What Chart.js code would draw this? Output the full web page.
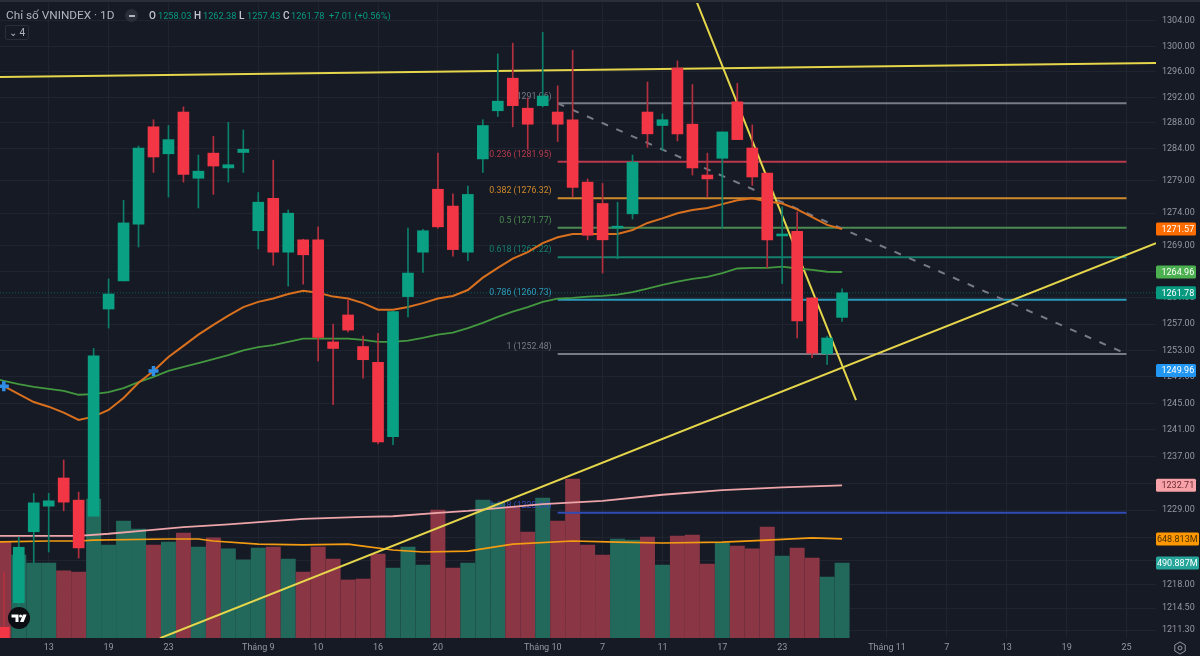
<!DOCTYPE html>
<html>
<head>
<meta charset="utf-8">
<title>Chỉ số VNINDEX</title>
<script src="https://cdn.jsdelivr.net/npm/chart.js@4"></script>
<style>
html,body{margin:0;padding:0;background:#161a25;overflow:hidden;}
#wrap{position:relative;width:1200px;height:656px;font-family:Roboto,"Liberation Sans",sans-serif;filter:blur(0.35px);}
canvas{position:absolute;left:0;top:0;}
#topline{position:absolute;left:0;top:0;width:1200px;height:2px;background:#2a2e39;}
.h{position:absolute;top:9px;font-size:9.2px;line-height:13px;color:#089981;white-space:nowrap;}
.k{color:#c5c8d0;font-weight:500;font-size:10px;}
#title{position:absolute;left:6px;top:7px;font-size:11.8px;line-height:16px;color:#b2b5be;white-space:nowrap;}
#minus{position:absolute;left:125px;top:9px;width:13px;height:13px;border-radius:50%;background:#2a2e39;}
#minus i{position:absolute;left:3.5px;top:5.5px;width:6px;height:2px;background:#b2b5be;}
#count{position:absolute;left:5px;top:25px;width:22px;height:13px;border:1px solid #2a2e39;border-radius:2px;color:#b2b5be;font-size:10px;line-height:13px;text-align:center;}
#logo{position:absolute;left:8px;top:607px;}
#gear{position:absolute;left:1173px;top:641px;}
</style>
</head>
<body>
<div id="wrap">
  <canvas id="chart" width="1200" height="656"></canvas>
  <div id="topline"></div>
  <div id="title">Chỉ số VNINDEX · 1D</div>
  <div id="minus"><i></i></div>
  <div class="h" style="left:149px"><span class="k">O</span></div>
  <div class="h" style="left:158px">1258.03</div>
  <div class="h" style="left:194px"><span class="k">H</span></div>
  <div class="h" style="left:203px">1262.38</div>
  <div class="h" style="left:239px"><span class="k">L</span></div>
  <div class="h" style="left:247px">1257.43</div>
  <div class="h" style="left:283px"><span class="k">C</span></div>
  <div class="h" style="left:291px">1261.78</div>
  <div class="h" style="left:329px">+7.01 (+0.56%)</div>
  <div id="count">⌄ 4</div>
  <svg id="logo" width="22" height="22" viewBox="0 0 22 22">
    <circle cx="11" cy="11" r="11" fill="#0b0d12"/>
    <path d="M3.5 7.5h7v7.5h-3v-4.5h-4z" fill="#fff"/>
    <circle cx="12.6" cy="9" r="1.5" fill="#fff"/>
    <path d="M15 7.5h3.6l-3 7.5h-3.6z" fill="#fff"/>
  </svg>
  <svg id="gear" width="14" height="14" viewBox="0 0 14 14">
    <path d="M7 1l5.2 3v6L7 13l-5.2-3V4z" fill="none" stroke="#9598a1" stroke-width="1"/>
    <circle cx="7" cy="7" r="2" fill="none" stroke="#9598a1" stroke-width="1"/>
  </svg>
</div>
<script>
// daily candles
const opens = [1211.7,1215.3,1225.8,1229.6,1233.8,1230.5,1228.1,1259.3,1263.6,1272.3,1287.4,1283.2,1289.7,1279.4,1283.3,1281,1283.4,1271.3,1276.3,1268,1269.9,1269.9,1254.3,1258.4,1253.6,1251.2,1240,1261.2,1268,1277.7,1275.1,1268,1282.4,1289.9,1295,1290.3,1290.7,1289.7,1288.5,1278.8,1275.5,1271.7,1273.9,1289.7,1287.6,1296.6,1287.8,1279.9,1282.5,1291.3,1284.1,1280.2,1270.5,1271.2,1261,1252.5,1258.03];
const highs = [1219.8,1225,1231.5,1231.5,1236.5,1231.7,1253.3,1263.9,1276,1284.4,1288.5,1287.6,1290.5,1283,1285.9,1288.1,1286.9,1277.2,1282.2,1274.5,1270,1271.9,1257,1260.7,1255.2,1255.6,1259,1271.7,1271.5,1283.3,1277,1278.2,1288.5,1298.8,1300.5,1291.9,1302.2,1293.8,1299.4,1279.3,1278.6,1275.7,1283,1294.4,1289.4,1297.7,1294,1283.3,1286.6,1294.2,1287.7,1280.2,1275,1274.2,1261,1255.2,1262.38];
const lows = [1210,1214.5,1221.2,1222.8,1228.9,1221.9,1228.1,1256.4,1263.6,1268.8,1280.3,1276.5,1278.8,1274.8,1276.9,1278.8,1280.3,1268.5,1266,1262.8,1263.1,1251.4,1244.8,1255.8,1248.8,1238.9,1238.8,1258.1,1264.9,1271.7,1267.4,1266.7,1280.3,1289,1287.4,1283.9,1290.5,1285.1,1276.5,1269.9,1264.8,1267,1273.1,1284.2,1283.7,1285.2,1279.9,1276.5,1271.7,1285.4,1278.3,1265.6,1263.2,1254.9,1251.9,1250.9,1257.43];
const closes = [1210,1223.5,1230.1,1230.4,1230.2,1223.4,1252.2,1261.6,1272.5,1284.1,1282.7,1285.4,1280,1280.5,1281.3,1281.5,1283.9,1275.7,1268,1274,1267.6,1255,1253.3,1256.1,1251.6,1239.2,1258.9,1264.8,1271.3,1271.9,1268.4,1276.9,1287.6,1291.4,1290.7,1287.8,1292.2,1287.8,1278,1270.6,1269.9,1272,1281.9,1286.3,1288.5,1286.3,1281,1279.3,1286.6,1285.4,1279.6,1269.9,1270.8,1257.5,1252.6,1254.9,1261.78];
// millions
const volumes = [628,543,491,491,439,432,910,609,766,713,609,628,687,596,655,583,511,589,596,517,432,596,517,380,386,550,458,596,478,838,458,491,903,884,857,694,916,766,1041,609,543,648,641,661,478,668,674,484,622,602,583,726,537,589,524,399,490.887];

// moving averages, one value per day
const ma20 = [1247.6,1246.4,1245.2,1244.5,1243.6,1242.5,1243,1244,1245.8,1248.1,1249.9,1252,1253.7,1255.4,1256.9,1258.3,1259.6,1260.4,1260.9,1261.6,1262.1,1261.8,1261.2,1260.9,1260.2,1259.2,1259.2,1259.6,1260.2,1260.9,1261.3,1262.2,1264.1,1265.6,1267,1268,1269.4,1270.3,1270.8,1270.8,1270.8,1270.8,1271.4,1272.5,1273.2,1274,1274.5,1274.8,1275.4,1276,1276.3,1275.8,1275.5,1274.6,1273.4,1272.2,1271.57];
const ma50 = [1248.4,1247.9,1247.5,1247.2,1246.9,1246.3,1246.4,1246.7,1247.3,1248.2,1249,1249.9,1250.5,1251.1,1251.7,1252.3,1253,1253.5,1253.8,1254.3,1254.8,1254.8,1254.8,1254.8,1254.6,1254.3,1254.3,1254.5,1254.9,1255.4,1255.7,1256.4,1257.2,1258.1,1258.9,1259.6,1260.4,1260.9,1261,1261.2,1261.3,1261.5,1261.9,1262.4,1263,1263.5,1263.9,1264.2,1264.8,1265.5,1265.6,1265.6,1265.8,1265.5,1265.3,1265,1264.96];
const ma50Before = 1249;

// slow lines are read at fewer days
const ma200Days = [-1,5,7,9,12,15,20,24,26,29,31,36,40,44,48,52,56];
const ma200 = [1225.2,1225.2,1225.5,1225.9,1226.5,1226.9,1227.7,1228,1228.1,1228.6,1228.9,1229.9,1230.4,1231.3,1232,1232.4,1232.71];
const volMaDays = [-1,3,5,6,11,13,14,17,20,23,24,26,28,31,34,38,41,44,48,51,54,56];
const volMa = [628,635,635,641,648,648,635,615,609,615,602,576,563,569,615,635,628,622,628,641,655,648.813];

// fib levels
const fibRatios = ['0','0.236','0.382','0.5','0.618','0.786','1','1.618'];
const fibPrices = [1291.06,1281.95,1276.32,1271.77,1267.22,1260.73,1252.48,1228.64];
const fibColors = ['#787b86','#b83a4c','#d08a2c','#4b8b50','#15806e','#2b9cbb','#787b86','#2f4bb5'];
const fibDays = [37,75];

// drawn trend lines, [day, price]
const topLineDays = [-0.26,76.97];
const topLinePrices = [1295.2,1297.4];
const fallLineDays = [46.24,56.93];
const fallLinePrices = [1307.3,1245.5];
const riseLineDays = [10.43,76.97];
const riseLinePrices = [1210.1,1269.4];

const crossDays = [0,10];
const crossPrices = [1247.6,1249.9];

// axes
const xMin = -0.254, xMax = 76.97;
const xTickDays = [3,7,11,17,21,25,29,36,40,44,48,52,59,63,67,71,75];
const xTickLabels = ['13','19','23','Tháng 9','10','16','20','Tháng 10','7','11','17','23','Tháng 11','7','13','19','25'];
const yTicks = [1304,1300,1296,1292,1288,1284,1279,1274,1269,1265,1261,1257,1253,1249,1245,1241,1237,1233,1229,1225,1221.5,1218,1214.5,1211.3];
const yTicksUnderTags = [1265,1233,1225,1221.5];

const priceMin = 1210.13, priceMax = 1306.84, volMax = 4157;

// last values shown on the axis
const priceTags = [[1271.57,'#ff6d00','#fff'],[1264.96,'#4caf50','#fff'],[1261.78,'#089981','#fff'],[1249.96,'#2196f3','#fff'],[1232.71,'#f7a1a8','#6b2a33']];
const volTags = [[648.813,'#ff9800','#4a3000'],[490.887,'#26a69a','#fff']];

const upColor = '#0aa083', downColor = '#f23645';
const upVol = '#22695c', downVol = '#8b3645';
const upWick = '#0c7f6b', downWick = '#b5303f';
const gridColor = '#1f2430';
const fontName = 'Roboto, "Liberation Sans", sans-serif';

const isUp = opens.map((o,i) => closes[i] >= o);

function toPoints(days, values){
    return days.map((d,i) => ({x:d, y:values[i]}));
}

function lineSet(label, points, color, width, order, extra){
    return Object.assign({
        type:'line', label:label, data:points, yAxisID:'y',
        borderColor:color, borderWidth:width, pointRadius:0, tension:0, order:order
    }, extra || {});
}

// tick labels must not shrink the plot area
function noPadding(s){
    s.paddingLeft = s.paddingRight = s.paddingTop = s.paddingBottom = 0;
}

const dayIndex = opens.map((o,i) => i);
const datasets = [];

datasets.push({
    type:'bar', label:'volume', yAxisID:'yv', grouped:false, order:100,
    data:toPoints(dayIndex, volumes),
    backgroundColor:isUp.map(u => u ? upVol : downVol),
    barPercentage:1, categoryPercentage:1, maxBarThickness:14.3
});
datasets.push(lineSet('volMa', toPoints(volMaDays, volMa), '#f39c12', 1.7, 95, {yAxisID:'yv'}));
datasets.push(lineSet('ma200', toPoints(ma200Days, ma200), '#eda5aa', 1.8, 90));
datasets.push(lineSet('last', toPoints([xMin,xMax], [1261.78,1261.78]), 'rgba(10,140,118,0.6)', 1, 85, {borderDash:[1,2]}));

fibPrices.forEach((p,i) => {
    datasets.push(lineSet('fib'+i, toPoints(fibDays, [p,p]), fibColors[i], 2, 80));
});
datasets.push(lineSet('fibTrend', toPoints(fibDays, [fibPrices[0],fibPrices[6]]), '#787b86', 2, 78, {borderDash:[7,9]}));

datasets.push(lineSet('topLine', toPoints(topLineDays, topLinePrices), '#e6d64b', 2, 70));
datasets.push(lineSet('fallLine', toPoints(fallLineDays, fallLinePrices), '#e6d64b', 2, 70));
datasets.push(lineSet('riseLine', toPoints(riseLineDays, riseLinePrices), '#e6d64b', 2, 70));

datasets.push(lineSet('ma50', toPoints([-1].concat(dayIndex), [ma50Before].concat(ma50)), '#43983f', 1.8, 60));
datasets.push(lineSet('ma20', toPoints(dayIndex, ma20), '#d9701e', 2, 58));

datasets.push({
    type:'bar', label:'wick', yAxisID:'y', grouped:false, order:20,
    data:dayIndex.map(i => ({x:i, y:[lows[i],highs[i]]})),
    backgroundColor:isUp.map(u => u ? upWick : downWick),
    barPercentage:1, categoryPercentage:1, maxBarThickness:1
});
datasets.push({
    type:'bar', label:'body', yAxisID:'y', grouped:false, order:10,
    data:dayIndex.map(i => ({x:i, y:[opens[i],closes[i]]})),
    backgroundColor:isUp.map(u => u ? upColor : downColor),
    barPercentage:1, categoryPercentage:1, maxBarThickness:11
});
datasets.push({
    type:'line', label:'cross', yAxisID:'y', order:5, showLine:false,
    data:toPoints(crossDays, crossPrices),
    pointStyle:'cross', pointRadius:5, pointBorderColor:'#2f8fe8', pointBorderWidth:3.5
});

// fib captions sit above the volume bars but under the candles
const fibLabels = {
    id:'fibLabels',
    afterDatasetDraw(chart, args){
        if(chart.data.datasets[args.index].label !== 'volMa') return;
        const ctx = chart.ctx, yScale = chart.scales.y, xScale = chart.scales.x;
        const right = xScale.getPixelForValue(fibDays[0]) - 6;
        ctx.save();
        ctx.font = '8.8px ' + fontName;
        ctx.textAlign = 'right';
        ctx.textBaseline = 'middle';
        fibPrices.forEach((p,i) => {
            ctx.fillStyle = fibColors[i];
            ctx.fillText(fibRatios[i] + ' (' + p.toFixed(2) + ')', right, yScale.getPixelForValue(p) - 7);
        });
        ctx.restore();
    }
};

function drawTag(ctx, y, text, bg, fg, width, textX){
    ctx.fillStyle = bg;
    ctx.beginPath();
    ctx.roundRect(1156, y - 6.5, width, 13, 1.5);
    ctx.fill();
    ctx.fillStyle = fg;
    ctx.fillText(text, textX, y + 0.5);
}

const axisTags = {
    id:'axisTags',
    afterDraw(chart){
        const ctx = chart.ctx;
        ctx.save();
        ctx.font = '9px ' + fontName;
        ctx.textAlign = 'left';
        ctx.textBaseline = 'middle';
        priceTags.forEach(t => drawTag(ctx, chart.scales.y.getPixelForValue(t[0]), t[0].toFixed(2), t[1], t[2], 40, 1161.5));
        volTags.forEach(t => drawTag(ctx, chart.scales.yv.getPixelForValue(t[0]), t[0].toFixed(3) + 'M', t[1], t[2], 43, 1157));
        ctx.restore();
    }
};

new Chart(document.getElementById('chart').getContext('2d'), {
    type:'bar',
    data:{datasets:datasets},
    plugins:[fibLabels, axisTags],
    options:{
        responsive:false,
        animation:false,
        devicePixelRatio:1,
        layout:{autoPadding:false, padding:{top:3}},
        plugins:{legend:{display:false}, tooltip:{enabled:false}},
        scales:{
            x:{
                type:'linear', min:xMin, max:xMax, offset:false,
                afterBuildTicks:s => { s.ticks = xTickDays.map(v => ({value:v})); },
                afterFit:s => { s.height = 18; noPadding(s); },
                grid:{color:gridColor, drawTicks:false, offset:false},
                border:{display:false},
                ticks:{
                    autoSkip:false, maxRotation:0, padding:4, color:'#9598a1',
                    font:{family:fontName, size:9},
                    callback:v => xTickLabels[xTickDays.indexOf(v)]
                }
            },
            y:{
                type:'logarithmic', position:'right', min:priceMin, max:priceMax, bounds:'data',
                afterBuildTicks:s => { s.ticks = yTicks.map(v => ({value:v})); },
                afterFit:s => { s.width = 44; noPadding(s); },
                grid:{color:gridColor, drawTicks:false},
                border:{display:false},
                ticks:{
                    autoSkip:false, padding:6, color:'#9598a1',
                    font:{family:fontName, size:9},
                    callback:v => yTicksUnderTags.includes(v) ? '' : v.toFixed(2)
                }
            },
            yv:{type:'linear', display:false, min:0, max:volMax, afterFit:noPadding}
        }
    }
});
</script>
</body>
</html>
